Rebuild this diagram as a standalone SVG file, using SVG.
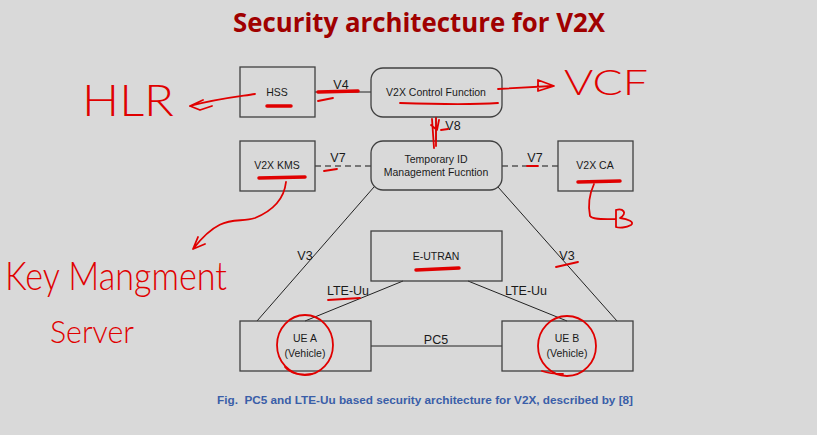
<svg xmlns="http://www.w3.org/2000/svg" width="817" height="435" viewBox="0 0 817 435">
<style>
.box{fill:none;stroke:#404040;stroke-width:1.3}
.lbl{font-family:"Liberation Sans",Arial,sans-serif;font-size:10.5px;fill:#1a1a1a;text-anchor:middle}
.if{font-family:"Liberation Sans",Arial,sans-serif;font-size:12.5px;fill:#1a1a1a;text-anchor:middle}
.ln{stroke:#222;stroke-width:1;fill:none}
.dash{stroke:#555;stroke-width:1.6;stroke-dasharray:6,4;fill:none}
.red{stroke:#e00000;fill:none;stroke-linecap:round;stroke-linejoin:round;stroke-width:1.8}
.thick{stroke:#e00000;fill:none;stroke-linecap:round;stroke-width:3.5}
.hw{font-family:"Lato","Liberation Sans",sans-serif;font-weight:300;fill:#e00000}
</style>
<rect width="817" height="435" fill="#d9d9d9"/>
<text x="419" y="32" font-family="'Open Sans','Liberation Sans',sans-serif" font-weight="bold" font-size="27" fill="#a00000" text-anchor="middle" textLength="372" lengthAdjust="spacingAndGlyphs">Security architecture for V2X</text>

<g id="connectors">
<line class="ln" x1="315" y1="92" x2="371" y2="92"/>
<line class="ln" x1="436" y1="117" x2="436" y2="141"/>
<line class="dash" x1="315" y1="166" x2="371" y2="166"/>
<line class="dash" x1="502" y1="166" x2="558" y2="166"/>
<line class="ln" x1="374" y1="187" x2="257" y2="321"/>
<line class="ln" x1="498" y1="187" x2="617" y2="321"/>
<line class="ln" x1="403" y1="281" x2="305" y2="321"/>
<line class="ln" x1="468" y1="281" x2="567" y2="321"/>
<line class="ln" x1="371" y1="346" x2="502" y2="346"/>
<text class="if" x="341" y="89">V4</text>
<text class="if" x="453" y="130">V8</text>
<text class="if" x="338" y="162">V7</text>
<text class="if" x="535" y="162">V7</text>
<text class="if" x="305" y="260">V3</text>
<text class="if" x="567" y="260">V3</text>
<text class="if" x="348" y="295">LTE-Uu</text>
<text class="if" x="526" y="295">LTE-Uu</text>
<text class="if" x="436" y="344">PC5</text>
</g>

<g id="hss"><rect class="box" x="240" y="67" width="75" height="50"/><text class="lbl" x="277" y="96">HSS</text></g>
<g id="v2x-control"><rect class="box" x="371" y="68" width="131" height="49" rx="12"/><text class="lbl" x="436" y="96">V2X Control Function</text></g>
<g id="v2x-kms"><rect class="box" x="240" y="141" width="75" height="50"/><text class="lbl" x="277" y="169">V2X KMS</text></g>
<g id="temp-id"><rect class="box" x="371" y="141" width="131" height="49" rx="12"/><text class="lbl" x="436" y="163">Temporary ID</text><text class="lbl" x="436" y="176">Management Fucntion</text></g>
<g id="v2x-ca"><rect class="box" x="558" y="141" width="75" height="50"/><text class="lbl" x="595" y="169">V2X CA</text></g>
<g id="e-utran"><rect class="box" x="371" y="231" width="131" height="50"/><text class="lbl" x="436" y="260">E-UTRAN</text></g>
<g id="ue-a"><rect class="box" x="240" y="321" width="131" height="50"/><text class="lbl" x="305" y="342">UE A</text><text class="lbl" x="305" y="357">(Vehicle)</text></g>
<g id="ue-b"><rect class="box" x="502" y="321" width="131" height="50"/><text class="lbl" x="567" y="342">UE B</text><text class="lbl" x="567" y="357">(Vehicle)</text></g>

<text x="425" y="404" font-family="'Liberation Sans',Arial,sans-serif" font-weight="bold" font-size="10.5" fill="#3a5ea8" text-anchor="middle" textLength="416" lengthAdjust="spacingAndGlyphs">Fig.&#160; PC5 and LTE-Uu based security architecture for V2X, described by [8]</text>

<g id="annotations">
<text class="hw" x="82" y="116" font-size="44" textLength="92" lengthAdjust="spacingAndGlyphs">HLR</text>
<path class="red" d="M255,94 C235,97 215,99 190,106 M190,106 L203,100 M190,106 L200,110 L212,106"/>
<path class="thick" d="M267,106 L291,106"/>
<path class="thick" d="M318,92 L358,91"/>
<path class="red" d="M318,101 L333,98"/>
<path class="red" d="M400,103 C430,104 470,105 498,103"/>
<path class="red" d="M498,89 L552,86 M538,80 L554,86 L538,91 Z"/>
<text class="hw" x="564" y="95" font-size="36" textLength="84" lengthAdjust="spacingAndGlyphs">VCF</text>
<path class="red" d="M432,119 L434,148 M436,118 L436,146 M431,125 L437,130 L439,120"/>
<path class="red" d="M441,130 L448,129"/>
<path class="thick" d="M259,178 L305,177"/>
<path class="red" d="M286,182 C284,200 272,211 255,218 C236,224 222,212 193,249 M193,249 L198,237 M193,249 L205,244"/>
<text class="hw" x="5" y="290" font-size="40" textLength="222" lengthAdjust="spacingAndGlyphs">Key Mangment</text>
<text class="hw" x="50" y="343" font-size="32" textLength="84" lengthAdjust="spacingAndGlyphs">Server</text>
<path class="red" d="M324,171 L337,169"/>
<path class="red" d="M527,166 L538,166"/>
<path class="thick" d="M578,182 L620,181"/>
<path class="red" d="M594,184 C589,195 588,206 590,216 C593,220 604,219 616,219 M616,210 L616,227 M616,210 C623,208 628,213 620,218 C628,219 635,222 631,225 C626,228 619,228 616,227"/>
<path class="thick" d="M416,270 L459,268" stroke-width="3"/>
<path class="red" d="M556,267 L578,262"/>
<path class="red" d="M328,300 L360,298"/>
<ellipse class="red" cx="305" cy="345" rx="28" ry="30"/>
<path class="red" d="M285,367 C290,373 300,376 312,374"/>
<ellipse class="red" cx="567" cy="346" rx="29" ry="30"/>
<path class="red" d="M542,371 C550,374 558,374 563,374"/>
</g>
</svg>
